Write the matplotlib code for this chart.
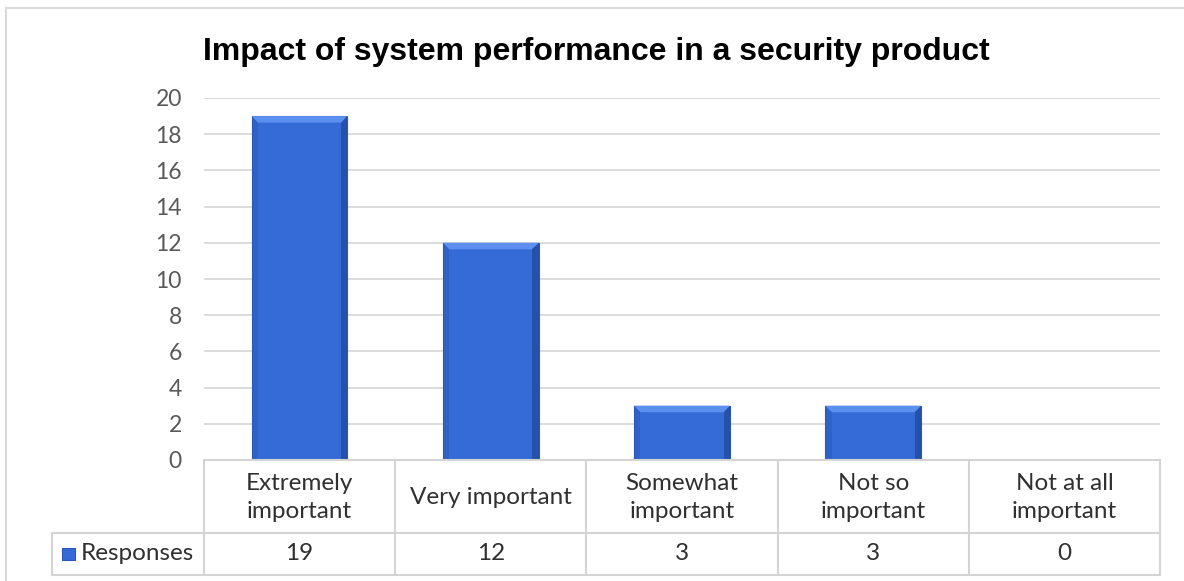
import matplotlib
matplotlib.use('Agg')
import matplotlib.pyplot as plt
from matplotlib.patches import Polygon, Rectangle
from matplotlib.lines import Line2D

# data
categories = ['Extremely\nimportant', 'Very important', 'Somewhat\nimportant',
              'Not so\nimportant', 'Not at all\nimportant']
responses = [19, 12, 3, 3, 0]
series_name = 'Responses'
title = 'Impact of system performance in a security product'
yticks = list(range(0, 21, 2))

W, H = 1184, 581
fig = plt.figure(figsize=(W / 100, H / 100), dpi=100)
fig.patch.set_facecolor('white')

# pixel layout
px_left, px_right, px_top, px_zero = 204, 1160, 98, 460
head_left, row1_bot, row2_bot = 52, 533, 575

ax = fig.add_axes([px_left / W, 1 - px_zero / H,
                   (px_right - px_left) / W, (px_zero - px_top) / H])
n = len(categories)
ax.set_xlim(-0.5, n - 0.5)
ax.set_ylim(0, 20)
for s in ax.spines.values():
    s.set_visible(False)
ax.set_yticks(yticks)
ax.set_xticks([])
ax.tick_params(axis='y', length=0, pad=16, labelsize=16.5, labelcolor='#595959')
for lab in ax.get_yticklabels():
    lab.set_family('Lato')
for t in yticks[1:]:
    ax.axhline(t, color='#d9d9d9', lw=1.3, zorder=0)

# bars with a simple bevel
body, light, dark, darker = '#356bd6', '#5d8ff0', '#2b58b8', '#1f4696'
bw = 0.5
bx = 0.032   # bevel in x (data units)
by = 0.36    # bevel in y (data units)
for i, v in enumerate(responses):
    if v <= 0:
        continue
    l, r = i - bw / 2, i + bw / 2
    ax.bar(i, v, width=bw, color=body, edgecolor=dark, lw=0.8, zorder=2)
    ax.add_patch(Polygon([(l, v), (r, v), (r - bx, v - by), (l + bx, v - by)],
                         closed=True, color=light, lw=0, zorder=3))
    ax.add_patch(Polygon([(r, v), (r, 0), (r - bx, 0), (r - bx, v - by)],
                         closed=True, color=darker, lw=0, alpha=0.7, zorder=3))
    ax.add_patch(Polygon([(l, v), (l, 0), (l + bx, 0), (l + bx, v - by)],
                         closed=True, color=dark, lw=0, alpha=0.5, zorder=3))

# title
fig.text(0.504, 1 - 52 / H, title, ha='center', va='center',
         family='Liberation Sans', weight='bold', fontsize=23, color='black')

# data table
unit = (px_right - px_left) / n
extra = (px_left - head_left) / unit
tax = fig.add_axes([head_left / W, 1 - row2_bot / H,
                    (px_right - head_left) / W, (row2_bot - px_zero) / H])
tax.set_xlim(-0.5 - extra, n - 0.5)
tax.set_ylim(row2_bot - px_zero, 0)
tax.axis('off')
gc = '#d4d4d4'
r1 = row1_bot - px_zero
r2 = row2_bot - px_zero
tax.plot([-0.5, n - 0.5], [0, 0], color=gc, lw=1.5, clip_on=False)
tax.plot([-0.5 - extra, n - 0.5], [r1, r1], color=gc, lw=1.5, clip_on=False)
tax.plot([-0.5 - extra, n - 0.5], [r2, r2], color=gc, lw=1.5, clip_on=False)
tax.plot([-0.5 - extra, -0.5 - extra], [r1, r2], color=gc, lw=1.5, clip_on=False)
for k in range(n + 1):
    tax.plot([k - 0.5, k - 0.5], [0, r2], color=gc, lw=1.5, clip_on=False)
tcol = '#303030'
fs = 17.5
for i, (c, v) in enumerate(zip(categories, responses)):
    tax.text(i, r1 / 2 + 1, c, ha='center', va='center', family='Lato',
             fontsize=fs, color=tcol, linespacing=1.42)
    tax.text(i, (r1 + r2) / 2, str(v), ha='center', va='center', family='Lato',
             fontsize=fs, color=tcol)
hx = -0.5 - extra
tax.add_patch(Rectangle((hx + 10 / unit, (r1 + r2) / 2 - 6), 13 / unit, 12,
                        facecolor=body, edgecolor=dark, lw=0.8, clip_on=False))
tax.text(hx + 29 / unit, (r1 + r2) / 2, series_name, ha='left', va='center',
         family='Lato', fontsize=fs, color=tcol)

# chart frame (top and left visible)
fig.add_artist(Line2D([6 / W, 1], [1 - 8 / H, 1 - 8 / H], color='#d9d9d9', lw=1.5))
fig.add_artist(Line2D([6 / W, 6 / W], [0, 1 - 8 / H], color='#d9d9d9', lw=1.5))

fig.savefig('out.png', dpi=100, facecolor='white')
